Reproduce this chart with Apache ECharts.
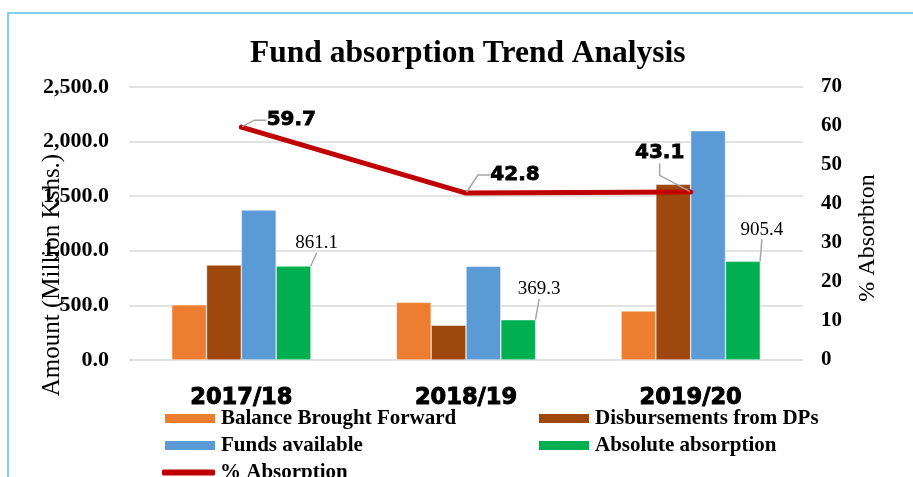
<!DOCTYPE html>
<html>
<head>
<meta charset="utf-8">
<script src="https://cdn.jsdelivr.net/npm/echarts@6/dist/echarts.min.js"></script>
<style>
  html, body { margin: 0; padding: 0; background: #fff; }
  #chart { width: 913px; height: 477px; }
</style>
</head>
<body>
<div id="chart"></div>
<script>
// values
const years = ['2017/18', '2018/19', '2019/20'];
const balanceBF = [505, 528, 449];
const disbursements = [870, 318, 1609];
const fundsAvailable = [1374, 858, 2100];
const absoluteAbsorption = [861.1, 369.3, 905.4];
const pctAbsorption = [59.7, 42.8, 43.1];

const serif = '"Liberation Serif", "Times New Roman", serif';
const heavy = '"DejaVu Sans", Arial, sans-serif';

// where Excel dropped the data labels (offset from default spot)
const lineLabelShift = [[50, 9], [49, -2], [-31, -23]];
const barLabelShift = [[23, -8], [21, -16], [19, -17]];

const chart = echarts.init(document.getElementById('chart'));

const legendBase = {
  padding: 0,
  itemWidth: 52,
  itemHeight: 11,
  icon: 'rect',
  textStyle: { fontFamily: serif, fontSize: 21, fontWeight: 'bold', color: '#000' }
};

chart.setOption({
  animation: false,
  title: {
    text: 'Fund absorption Trend Analysis',
    left: 245,
    top: 33,
    textStyle: { fontFamily: serif, fontSize: 31.5, fontWeight: 'bold', color: '#000' }
  },
  graphic: [
    {
      type: 'rect', silent: true,
      shape: { x: 8, y: 13, width: 1000, height: 600 },
      style: { fill: 'none', stroke: '#5bc2e7', lineWidth: 1.5 }
    },
    {
      type: 'text', x: 52, y: 275, rotation: Math.PI / 2,
      style: { text: 'Amount (Million Kshs.)', fontFamily: serif, fontSize: 25, fill: '#000',
        align: 'center', verticalAlign: 'middle' }
    },
    {
      type: 'text', x: 868, y: 238, rotation: Math.PI / 2,
      style: { text: '% Absorbton', fontFamily: serif, fontSize: 24, fill: '#000',
        align: 'center', verticalAlign: 'middle' }
    }
  ],
  legend: [
    Object.assign({ left: 163, top: 408, data: ['Balance Brought Forward'] }, legendBase),
    Object.assign({ left: 537, top: 408, data: ['Disbursements from DPs'] }, legendBase),
    Object.assign({ left: 163, top: 435, data: ['Funds available'] }, legendBase),
    Object.assign({ left: 537, top: 435, data: ['Absolute absorption'] }, legendBase),
    Object.assign({}, legendBase, { left: 162, top: 462, data: ['% Absorption'], icon: 'roundRect', itemHeight: 6, itemWidth: 53 })
  ],
  grid: { left: 129, right: 110, top: 87, bottom: 117 },
  xAxis: {
    type: 'category',
    data: years,
    axisLine: { show: false },
    axisTick: { show: false },
    axisLabel: {
      margin: 27,
      fontFamily: heavy, fontSize: 22.5, fontWeight: 'bold', color: '#000',
      textBorderColor: '#000', textBorderWidth: 1
    }
  },
  yAxis: [
    {
      type: 'value', min: 0, max: 2500, interval: 500,
      axisLine: { show: false }, axisTick: { show: false },
      axisLabel: {
        margin: 20,
        fontFamily: serif, fontSize: 22, fontWeight: 'bold', color: '#000',
        formatter: v => v.toLocaleString('en-US', { minimumFractionDigits: 1, maximumFractionDigits: 1 })
      },
      splitLine: { lineStyle: { color: '#d9d9d9', width: 1.5 } }
    },
    {
      type: 'value', min: 0, max: 70, interval: 10,
      axisLine: { show: false }, axisTick: { show: false },
      axisLabel: { margin: 18, fontFamily: serif, fontSize: 21, fontWeight: 'bold', color: '#000' },
      splitLine: { show: false }
    }
  ],
  series: [
    {
      name: 'Balance Brought Forward', type: 'bar', data: balanceBF,
      barGap: '0%', barCategoryGap: '38%',
      itemStyle: { color: '#ed7d31', borderColor: '#fff', borderWidth: 0.5 }
    },
    {
      name: 'Disbursements from DPs', type: 'bar', data: disbursements,
      itemStyle: { color: '#9e480e', borderColor: '#fff', borderWidth: 0.5 }
    },
    {
      name: 'Funds available', type: 'bar', data: fundsAvailable,
      itemStyle: { color: '#5b9bd5', borderColor: '#fff', borderWidth: 0.5 }
    },
    {
      name: 'Absolute absorption', type: 'bar', data: absoluteAbsorption,
      itemStyle: { color: '#00b050', borderColor: '#fff', borderWidth: 0.5 },
      label: {
        show: true, position: 'top',
        fontFamily: serif, fontSize: 19, color: '#000',
        formatter: p => p.value.toFixed(1)
      },
      labelLine: { show: true, lineStyle: { color: '#a6a6a6', width: 1.5 } },
      labelLayout: p => ({ dx: barLabelShift[p.dataIndex][0], dy: barLabelShift[p.dataIndex][1] })
    },
    {
      name: '% Absorption', type: 'line', yAxisIndex: 1, data: pctAbsorption,
      symbol: 'circle', symbolSize: 2,
      z: 5,
      itemStyle: { color: '#c00000' },
      lineStyle: { color: '#c00000', width: 5, cap: 'round' },
      label: {
        show: true, position: 'top',
        fontFamily: heavy, fontSize: 20, fontWeight: 'bold', color: '#000',
        textBorderColor: '#000', textBorderWidth: 0.8,
        formatter: p => p.value.toFixed(1)
      },
      labelLine: { show: true, length2: 12, lineStyle: { color: '#a6a6a6', width: 1.5 } },
      labelLayout: p => ({ dx: lineLabelShift[p.dataIndex][0], dy: lineLabelShift[p.dataIndex][1] })
    }
  ]
});
</script>
</body>
</html>
